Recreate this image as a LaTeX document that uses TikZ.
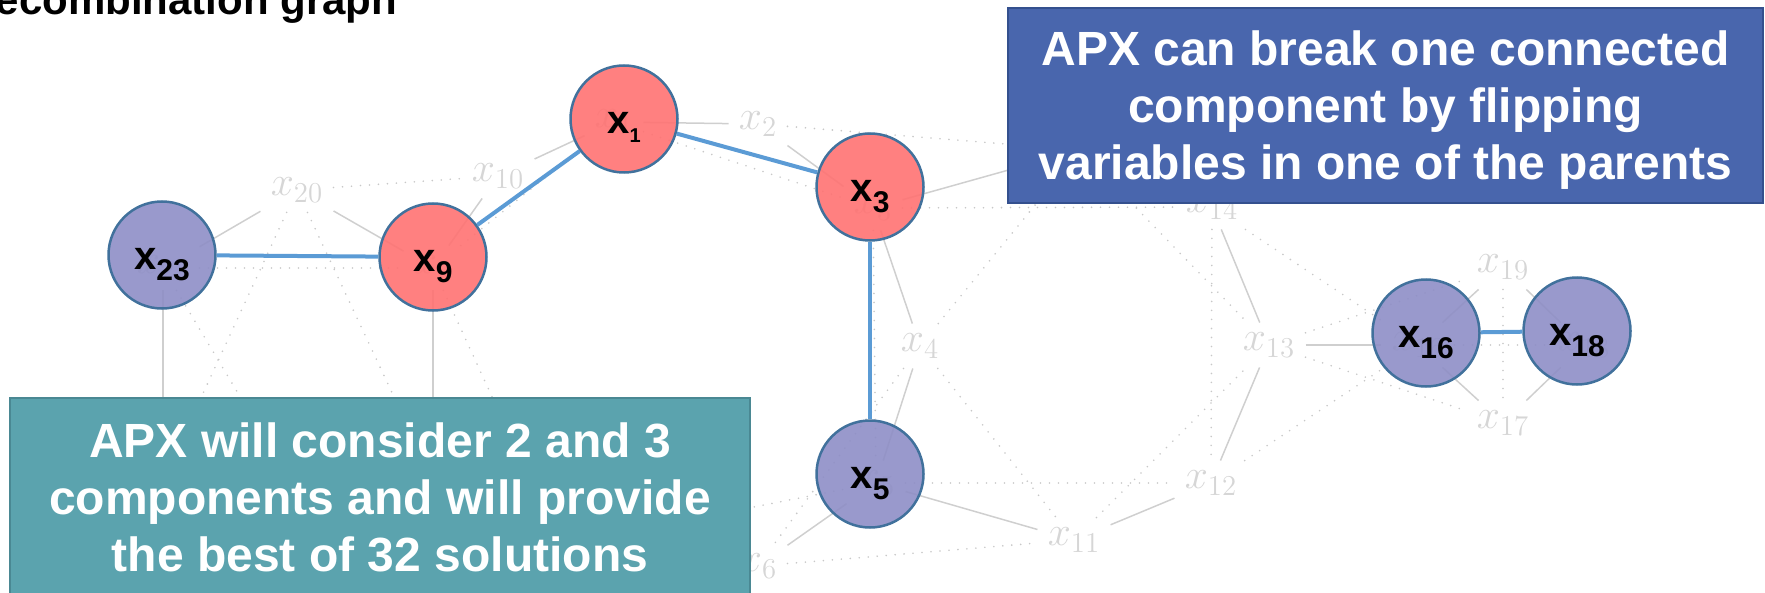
\documentclass[tikz,border=0pt]{standalone}
\usepackage[no-math]{fontspec}
\setmainfont{Liberation Sans}

\definecolor{faintc}{HTML}{D6D6D6}
\definecolor{glinec}{HTML}{CFCFCF}
\definecolor{dlinec}{HTML}{C8C8C8}
\definecolor{rimc}{HTML}{41719C}
\definecolor{redfill}{HTML}{FF7272}
\definecolor{purplefill}{HTML}{8E8EC6}
\definecolor{linkc}{HTML}{5B9BD5}
\definecolor{noteblue}{HTML}{4966AD}
\definecolor{noteblueedge}{HTML}{34508E}
\definecolor{noteteal}{HTML}{5BA3AE}
\definecolor{notetealedge}{HTML}{4A8893}

% bold variable name with a lowered subscript
\newcommand{\varlab}[3][5.5pt]{{\fontsize{20}{20}\selectfont x}\raisebox{-#1}{\fontsize{#3}{15}\selectfont #2}}

\begin{document}
\begin{tikzpicture}[x=0.5pt,y=-0.5pt,
  faint/.style={text=faintc, inner sep=5pt, font=\fontsize{20}{24}\selectfont},
  gline/.style={draw=glinec, line width=0.75pt},
  dline/.style={draw=dlinec, line width=0.9pt, line cap=round, dash pattern=on 0pt off 4.5pt},
  varnode/.style={circle, draw=rimc, line width=1.25pt, minimum size=53.5pt, inner sep=0pt,
    fill opacity=0.9, text opacity=1, text height=19.5pt, text depth=5pt,
    font=\bfseries},
  redvar/.style={varnode, fill=redfill},
  purplevar/.style={varnode, fill=purplefill},
  link/.style={draw=linkc, line width=2pt},
  notebox/.style={rectangle, inner sep=0pt},
  notetext/.style={inner sep=0pt, text=white, align=center,
    font=\bfseries\fontsize{24}{28.5}\selectfont},
]
\useasboundingbox (0,0) rectangle (1765,593);
\clip (0,0) rectangle (1765,593);

% ---- underlying variable graph (faint) ----
\node[faint] (f1)  at (614,122) {$x_{1}$};
\node[faint] (f2)  at (758,124) {$x_{2}$};
\node[faint] (f3)  at (873,208) {$x_{3}$};
\node[faint] (f4)  at (920,346) {$x_{4}$};
\node[faint] (f5)  at (876,483) {$x_{5}$};
\node[faint] (f6)  at (758,566) {$x_{6}$};
\node[faint] (f9)  at (433,268) {$x_{9}$};
\node[faint] (f10) at (498,176) {$x_{10}$};
\node[faint] (f11) at (1074,540) {$x_{11}$};
\node[faint] (f12) at (1211,483) {$x_{12}$};
\node[faint] (f13) at (1269,345) {$x_{13}$};
\node[faint] (f14) at (1212,207) {$x_{14}$};
\node[faint] (f16) at (1418,345) {$x_{16}$};
\node[faint] (f17) at (1503,423) {$x_{17}$};
\node[faint] (f18) at (1584,345) {$x_{18}$};
\node[faint] (f19) at (1503,267) {$x_{19}$};
\node[faint] (f20) at (297,190) {$x_{20}$};
\node[faint] (f23) at (163,268) {$x_{23}$};
\coordinate (f7)  at (560,545);
\coordinate (f8)  at (433,480);
\coordinate (f15) at (1080,150);
\coordinate (f21) at (290,480);
\coordinate (f22) at (163,480);

% solid edges
\foreach \a/\b in {f23/f20, f20/f9, f9/f10, f10/f1, f1/f2, f2/f3, f3/f15, f3/f4,
  f4/f5, f5/f6, f5/f11, f11/f12, f12/f13, f13/f14, f13/f16, f16/f19, f19/f18,
  f16/f17, f17/f18, f23/f22, f9/f8}
  \draw[gline] (\a) -- (\b);

% dotted edges
\foreach \a/\b in {f20/f10, f23/f9, f9/f1, f1/f3, f2/f15, f3/f14, f3/f5, f4/f15,
  f4/f11, f4/f6, f5/f12, f11/f13, f6/f11, f7/f5, f15/f13, f14/f12, f14/f16,
  f12/f16, f13/f19, f13/f17, f19/f17, f16/f18, f20/f22, f23/f21, f20/f8, f9/f7}
  \draw[dline] (\a) -- (\b);

% ---- highlighted variables ----
\node[redvar]    (v1)  at (624,119)  {\varlab[4.5pt]{1}{10}};
\node[redvar]    (v3)  at (870,187)  {\varlab{3}{15}};
\node[redvar]    (v9)  at (433,257)  {\varlab{9}{15}};
\node[purplevar] (v23) at (162,255)  {\varlab{23}{15}};
\node[purplevar] (v5)  at (870,474)  {\varlab{5}{15}};
\node[purplevar] (v16) at (1426,333) {\varlab{16}{15}};
\node[purplevar] (v18) at (1577,331) {\varlab{18}{15}};

\draw[link] (v23) -- (v9);
\draw[link] (v9) -- (v1);
\draw[link] (v1) -- (v3);
\draw[link] (v3) -- (v5);
\draw[link] (v16) -- (v18);

% ---- notes ----
\node[notebox, fill=noteblue, draw=noteblueedge, line width=1pt,
  minimum width=377.5pt, minimum height=97.5pt] (note1) at (1385.5,105.5) {};
\node[notetext] (note1txt) at ([yshift=-2.25pt]note1.center)
  {APX can break one connected\\component by flipping\\variables in one of the parents};

\node[notebox, fill=noteteal, draw=notetealedge, line width=0.8pt,
  minimum width=370pt, minimum height=101pt] (note2) at (380,499) {};
\node[notetext] (note2txt) at (380,497)
  {APX will consider 2 and 3\\components and will provide\\the best of 32 solutions};

% ---- heading ----
\node[anchor=base west, inner sep=0pt, font=\bfseries\fontsize{21}{24}\selectfont]
  (title) at (-35,15) {Recombination graph};
\end{tikzpicture}
\end{document}
